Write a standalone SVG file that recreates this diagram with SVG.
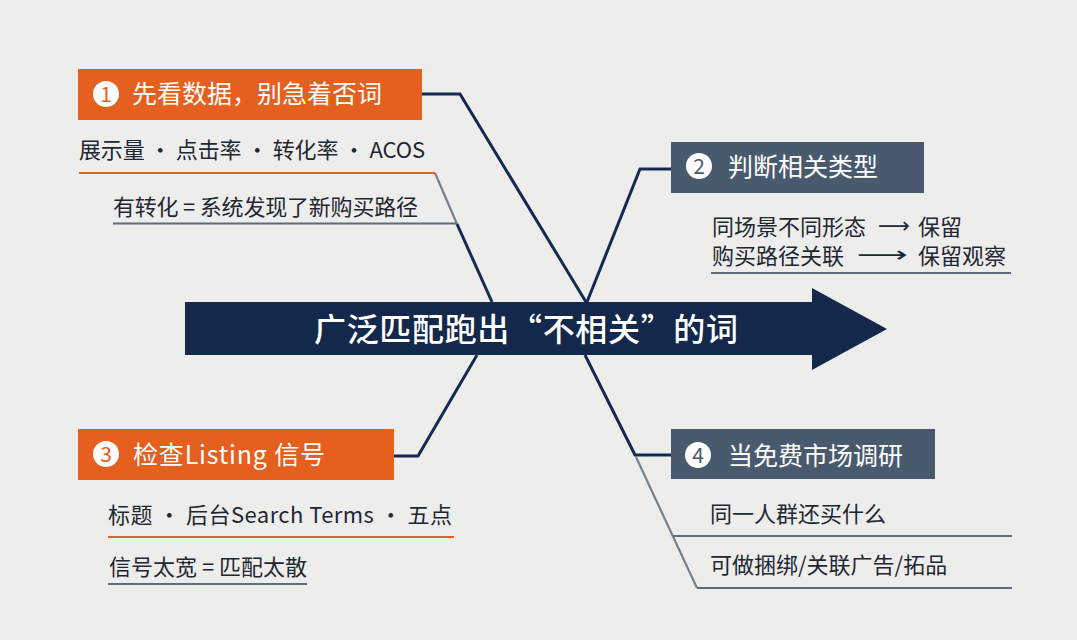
<svg xmlns="http://www.w3.org/2000/svg" width="1077" height="640" viewBox="0 0 1077 640">
<style>
text{font-family:"Noto Sans CJK SC","Noto Sans",sans-serif;}
.title{font-size:25px;fill:#ffffff;}
.sub{font-size:22px;fill:#1f2733;}
.num{font-size:21px;font-weight:normal;text-anchor:middle;}
.orange{fill:#e5601f;}
.slate{fill:#4a5a6e;}
.conn{fill:none;stroke:#142a52;stroke-width:3;stroke-linejoin:miter;}
.gray{fill:none;stroke:#74818f;stroke-width:2.2;}
.ul-o{stroke:#e5601f;stroke-width:2.2;}
.ul-g{stroke:#5d6b7d;stroke-width:2.2;}
.arr{font-family:"DejaVu Sans",sans-serif;font-size:22px;fill:#1f2733;}
</style>
<rect width="1077" height="640" fill="#ededeb"/>

<g id="connectors">
<polyline class="conn" points="422,94 460,94 586,302"/>
<polyline class="conn" points="671,169 640,169 587,302"/>
<polyline class="conn" points="394,456 418,456 477,355"/>
<polyline class="conn" points="671,455 635,455 585,355"/>
<line class="gray" x1="435" y1="173" x2="457" y2="224"/>
<line class="conn" x1="457" y1="224" x2="492" y2="302"/>
<line class="gray" x1="636" y1="457" x2="697" y2="588"/>
</g>

<g id="spine">
<polygon points="185,302 812,302 812,288 887,329 812,370 812,355 185,355" fill="#13284b"/>
<text x="314" y="341" font-size="32" font-weight="500" fill="#ffffff" textLength="424">广泛匹配跑出“不相关”的词</text>
</g>

<g id="node1">
<rect class="orange" x="78" y="69" width="344" height="51"/>
<circle cx="106" cy="94" r="13" fill="#ffffff"/>
<text class="num" x="106" y="101.5" fill="#e5601f">1</text>
<text class="title" x="132" y="103">先看数据，别急着否词</text>
<text class="sub" x="79" y="157.5" textLength="346">展示量 · 点击率 · 转化率 · ACOS</text>
<line class="ul-o" x1="79" y1="173" x2="435" y2="173"/>
<text class="sub" x="113" y="215" textLength="305">有转化 = 系统发现了新购买路径</text>
<line class="ul-g" x1="113" y1="223.5" x2="457" y2="223.5"/>
</g>

<g id="node2">
<rect class="slate" x="671" y="142" width="253" height="51"/>
<circle cx="699" cy="166" r="13" fill="#ffffff"/>
<text class="num" x="699" y="173.5" fill="#4a5a6e">2</text>
<text class="title" x="728" y="176">判断相关类型</text>
<text class="sub" x="712" y="234.5">同场景不同形态</text>
<text class="arr" x="878" y="233" textLength="32" lengthAdjust="spacingAndGlyphs">⟶</text>
<text class="sub" x="918" y="234.5">保留</text>
<text class="sub" x="712" y="263.5">购买路径关联</text>
<text class="arr" x="857" y="262" textLength="51" lengthAdjust="spacingAndGlyphs">⟶</text>
<text class="sub" x="918" y="263.5">保留观察</text>
<line class="ul-g" x1="711" y1="273" x2="1011" y2="273"/>
</g>

<g id="node3">
<rect class="orange" x="78" y="429" width="316" height="51"/>
<circle cx="106" cy="454" r="13" fill="#ffffff"/>
<text class="num" x="106" y="461.5" fill="#e5601f">3</text>
<text class="title" x="133" y="463.5" textLength="192">检查Listing 信号</text>
<text class="sub" x="108" y="522.5" textLength="344">标题 · 后台Search Terms · 五点</text>
<line class="ul-o" x1="108" y1="537" x2="454" y2="537"/>
<text class="sub" x="109" y="574.5" textLength="198">信号太宽 = 匹配太散</text>
<line class="ul-g" x1="108" y1="584" x2="307" y2="584"/>
</g>

<g id="node4">
<rect class="slate" x="671" y="429" width="264" height="50"/>
<circle cx="698" cy="455" r="13" fill="#ffffff"/>
<text class="num" x="698" y="462.5" fill="#4a5a6e">4</text>
<text class="title" x="728" y="464.5">当免费市场调研</text>
<text class="sub" x="710" y="522">同一人群还买什么</text>
<line class="ul-g" x1="673" y1="536" x2="1012" y2="536"/>
<text class="sub" x="710" y="572.5">可做捆绑/关联广告/拓品</text>
<line class="ul-g" x1="697" y1="588" x2="1012" y2="588"/>
</g>
</svg>
